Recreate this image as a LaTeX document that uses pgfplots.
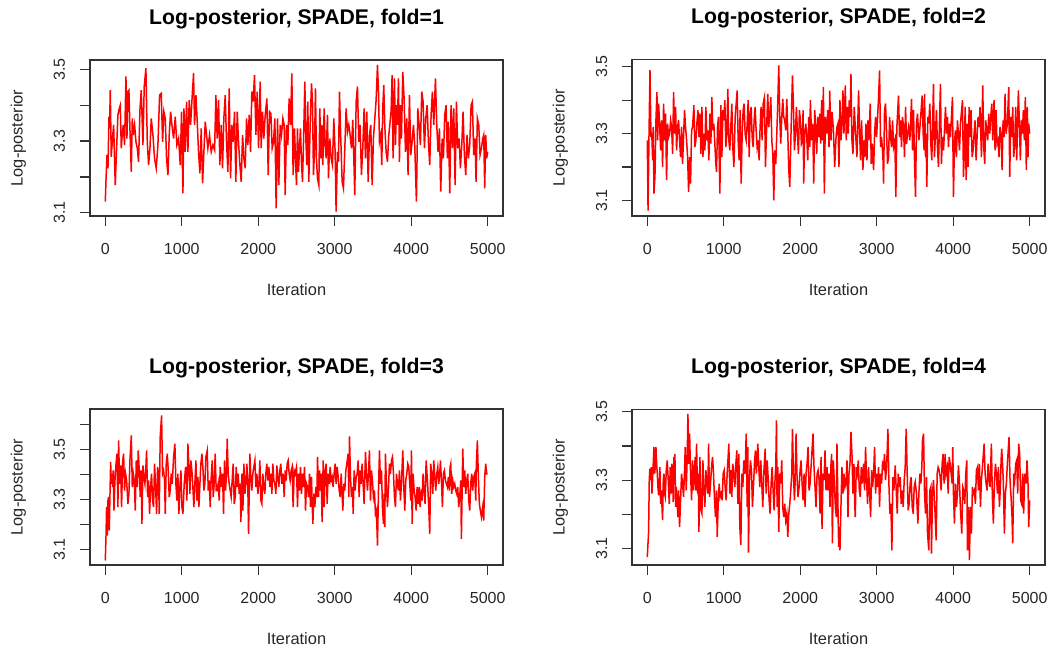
\documentclass[border=0pt]{standalone}
\usepackage{fontspec}
\setmainfont{Liberation Sans}
\usepackage{pgfplots}
\pgfplotsset{compat=1.18}

\pgfplotsset{
  trace/.style={
    scale only axis,
    width=206.5pt,
    anchor=south west,
    xmin=-200, xmax=5200,
    xtick={0,1000,2000,3000,4000,5000},
    xticklabels={0,1000,2000,3000,4000,5000},
    tick pos=left,
    tick align=outside,
    major tick length=5pt,
    axis line style={black!80, line width=0.65pt},
    every tick/.style={black!80, line width=0.65pt},
    /pgf/number format/assume math mode=true,
    ticklabel style={font=\fontsize{8}{9.6}\selectfont, text=black!85, inner sep=0pt},
    xticklabel style={anchor=base, yshift=-14.25pt},
    yticklabel style={xshift=-7.5pt, rotate=90, anchor=base},
    every axis title/.style={at={(rel axis cs:0.5,1)}, anchor=base, yshift=18pt,
      inner sep=0pt, font=\bfseries\fontsize{10.6}{12.5}\selectfont},
    every axis x label/.style={at={(rel axis cs:0.5,0)}, anchor=base, yshift=-39.5pt,
      inner sep=0pt, font=\fontsize{8.2}{10}\selectfont, text=black!85},
    every axis y label/.style={at={(rel axis cs:0,0.5)}, xshift=-33.7pt, rotate=90,
      anchor=base, inner sep=0pt, font=\fontsize{8.2}{10}\selectfont, text=black!85},
    xlabel={Iteration},
    ylabel={Log-posterior},
  },
  chain/.style={red, line width=0.75pt, mark=none},
}

\begin{document}
\begin{tikzpicture}
\path[use as bounding box] (0,0) rectangle (525.5pt,327.5pt);

% fold 1
\begin{axis}[trace, at={(45pt,219.5pt)}, height=78pt,
  ymin=3.091, ymax=3.526,
  ytick={3.1,3.2,3.3,3.4,3.5}, yticklabels={3.1,,3.3,,3.5},
  title={Log-posterior, SPADE, fold=1}]
\addplot[chain] table {
0 3.131
10 3.196
22 3.261
35 3.224
48 3.368
56 3.335
65 3.442
78 3.256
96 3.312
109 3.345
130 3.177
148 3.280
165 3.373
183 3.391
196 3.400
209 3.280
218 3.307
235 3.345
252 3.289
270 3.480
283 3.307
296 3.438
309 3.442
322 3.335
340 3.214
353 3.363
366 3.317
383 3.345
401 3.298
418 3.280
435 3.242
453 3.387
470 3.442
492 3.289
509 3.452
531 3.503
549 3.298
566 3.233
584 3.280
601 3.363
623 3.317
644 3.252
666 3.224
688 3.289
710 3.428
732 3.433
749 3.298
766 3.382
784 3.363
801 3.252
819 3.205
836 3.317
854 3.382
871 3.345
893 3.307
915 3.368
936 3.289
958 3.307
980 3.233
997 3.382
1015 3.154
1028 3.391
1045 3.270
1063 3.410
1080 3.270
1097 3.414
1115 3.345
1137 3.428
1154 3.489
1167 3.345
1185 3.428
1202 3.354
1219 3.270
1237 3.210
1254 3.335
1272 3.182
1289 3.270
1307 3.354
1324 3.317
1341 3.280
1363 3.317
1385 3.270
1407 3.289
1429 3.275
1446 3.428
1463 3.307
1481 3.414
1498 3.233
1516 3.345
1533 3.224
1550 3.363
1568 3.428
1585 3.298
1603 3.214
1620 3.447
1638 3.196
1655 3.345
1672 3.298
1690 3.382
1707 3.186
1725 3.382
1742 3.298
1760 3.233
1777 3.186
1795 3.317
1812 3.252
1829 3.224
1847 3.363
1864 3.289
1882 3.373
1899 3.270
1916 3.438
1934 3.410
1951 3.484
1969 3.317
1986 3.438
2004 3.280
2025 3.466
2038 3.280
2056 3.382
2073 3.307
2091 3.373
2113 3.419
2130 3.205
2147 3.382
2165 3.377
2182 3.280
2200 3.298
2217 3.363
2234 3.112
2252 3.363
2269 3.177
2287 3.345
2304 3.317
2322 3.363
2339 3.345
2352 3.149
2370 3.345
2387 3.289
2404 3.419
2422 3.345
2439 3.489
2456 3.205
2474 3.335
2491 3.224
2500 3.177
2513 3.335
2526 3.214
2539 3.280
2552 3.335
2565 3.242
2578 3.186
2592 3.298
2609 3.466
2622 3.307
2635 3.233
2648 3.410
2661 3.186
2679 3.345
2696 3.461
2709 3.410
2722 3.205
2735 3.270
2748 3.447
2761 3.252
2774 3.196
2792 3.177
2805 3.391
2818 3.252
2831 3.345
2844 3.233
2862 3.391
2875 3.289
2888 3.252
2905 3.373
2918 3.196
2936 3.307
2953 3.252
2970 3.233
2988 3.363
3005 3.270
3018 3.103
3036 3.270
3049 3.242
3062 3.438
3079 3.307
3097 3.186
3114 3.168
3132 3.280
3149 3.391
3167 3.326
3184 3.345
3201 3.317
3219 3.280
3236 3.359
3262 3.149
3280 3.410
3297 3.452
3315 3.298
3332 3.345
3349 3.205
3367 3.280
3384 3.391
3402 3.252
3419 3.382
3437 3.186
3454 3.317
3471 3.345
3489 3.177
3506 3.307
3524 3.363
3541 3.414
3559 3.512
3572 3.438
3585 3.298
3602 3.317
3615 3.233
3628 3.391
3641 3.456
3654 3.345
3672 3.270
3689 3.242
3707 3.317
3724 3.354
3737 3.382
3750 3.484
3763 3.252
3781 3.475
3794 3.289
3807 3.400
3820 3.345
3833 3.475
3846 3.242
3859 3.400
3872 3.307
3890 3.493
3907 3.419
3925 3.270
3942 3.363
3959 3.205
3977 3.428
3994 3.261
4012 3.298
4029 3.345
4046 3.289
4068 3.131
4086 3.391
4103 3.345
4120 3.289
4138 3.438
4155 3.410
4173 3.280
4190 3.363
4208 3.400
4225 3.298
4242 3.233
4260 3.373
4277 3.438
4295 3.345
4317 3.475
4334 3.345
4351 3.270
4369 3.335
4386 3.159
4404 3.307
4421 3.252
4438 3.373
4456 3.400
4473 3.252
4486 3.354
4504 3.154
4521 3.400
4539 3.280
4556 3.391
4574 3.177
4591 3.410
4608 3.280
4626 3.307
4643 3.224
4661 3.289
4678 3.382
4695 3.261
4713 3.205
4730 3.317
4748 3.252
4765 3.289
4783 3.400
4800 3.410
4817 3.261
4835 3.307
4848 3.186
4865 3.363
4883 3.345
4900 3.261
4918 3.280
4935 3.307
4948 3.317
4961 3.168
4974 3.317
4987 3.252
5000 3.270
};
\end{axis}

% fold 2
\begin{axis}[trace, at={(316pt,219.5pt)}, height=78.3pt,
  ymin=3.054, ymax=3.522,
  ytick={3.1,3.2,3.3,3.4,3.5}, yticklabels={3.1,,3.3,,3.5},
  title={Log-posterior, SPADE, fold=2}]
\addplot[chain] table {
0 3.280
10 3.070
22 3.290
35 3.490
48 3.290
52 3.300
61 3.285
70 3.220
78 3.320
87 3.121
100 3.171
113 3.340
126 3.424
135 3.280
148 3.390
161 3.330
174 3.250
187 3.340
200 3.200
213 3.390
226 3.280
239 3.360
252 3.161
265 3.330
279 3.290
292 3.300
305 3.340
318 3.320
331 3.240
344 3.424
357 3.300
370 3.380
383 3.250
396 3.320
409 3.340
422 3.280
435 3.230
448 3.320
461 3.210
474 3.290
487 3.370
500 3.320
514 3.280
527 3.230
540 3.126
553 3.230
566 3.151
579 3.310
592 3.320
609 3.385
622 3.260
635 3.280
648 3.330
662 3.370
675 3.290
688 3.360
701 3.240
714 3.380
727 3.230
740 3.300
753 3.250
766 3.380
779 3.280
792 3.310
805 3.220
818 3.360
831 3.270
844 3.409
857 3.310
870 3.330
883 3.270
896 3.210
905 3.186
918 3.320
931 3.350
949 3.121
962 3.385
975 3.230
988 3.370
1001 3.340
1014 3.400
1027 3.260
1040 3.300
1053 3.434
1066 3.280
1079 3.250
1092 3.320
1105 3.390
1118 3.260
1132 3.200
1149 3.350
1175 3.429
1188 3.280
1201 3.220
1214 3.370
1227 3.151
1240 3.295
1253 3.370
1266 3.390
1279 3.300
1293 3.280
1306 3.330
1319 3.400
1332 3.230
1345 3.360
1358 3.380
1371 3.290
1384 3.260
1397 3.340
1410 3.380
1423 3.310
1436 3.260
1449 3.280
1462 3.220
1475 3.320
1488 3.380
1501 3.280
1515 3.390
1532 3.409
1545 3.200
1558 3.300
1575 3.419
1588 3.320
1602 3.360
1615 3.409
1628 3.280
1641 3.240
1654 3.101
1667 3.250
1680 3.210
1693 3.300
1706 3.390
1719 3.504
1732 3.350
1745 3.270
1758 3.350
1771 3.404
1784 3.350
1797 3.340
1810 3.310
1824 3.404
1837 3.300
1850 3.191
1863 3.141
1876 3.270
1884 3.350
1898 3.474
1911 3.380
1924 3.250
1937 3.300
1950 3.380
1963 3.300
1976 3.240
1989 3.370
2002 3.340
2015 3.270
2028 3.280
2037 3.370
2045 3.151
2058 3.300
2072 3.330
2085 3.290
2098 3.220
2111 3.350
2124 3.260
2132 3.400
2150 3.280
2163 3.330
2176 3.151
2189 3.370
2202 3.320
2215 3.240
2228 3.350
2241 3.290
2254 3.360
2267 3.270
2280 3.400
2293 3.280
2302 3.439
2315 3.121
2328 3.350
2346 3.300
2359 3.370
2376 3.260
2385 3.429
2402 3.280
2415 3.365
2433 3.315
2450 3.200
2468 3.290
2480 3.320
2493 3.330
2506 3.200
2519 3.400
2532 3.280
2545 3.320
2558 3.429
2571 3.300
2589 3.444
2602 3.280
2615 3.380
2628 3.300
2641 3.400
2654 3.350
2663 3.479
2676 3.280
2689 3.240
2706 3.380
2724 3.300
2741 3.230
2763 3.429
2776 3.300
2789 3.220
2802 3.340
2819 3.191
2833 3.280
2846 3.230
2859 3.330
2872 3.220
2885 3.340
2898 3.280
2915 3.390
2928 3.210
2941 3.270
2959 3.191
2972 3.300
2985 3.350
2998 3.290
3011 3.350
3024 3.409
3037 3.489
3050 3.260
3063 3.290
3081 3.230
3089 3.151
3102 3.370
3115 3.390
3128 3.310
3141 3.210
3155 3.230
3168 3.350
3181 3.290
3194 3.260
3207 3.340
3220 3.260
3237 3.280
3250 3.111
3263 3.320
3285 3.414
3298 3.290
3311 3.340
3324 3.260
3337 3.350
3350 3.320
3363 3.230
3377 3.380
3390 3.270
3403 3.300
3416 3.320
3433 3.280
3455 3.404
3468 3.250
3481 3.370
3494 3.220
3507 3.111
3520 3.330
3533 3.360
3551 3.280
3568 3.330
3594 3.414
3607 3.300
3620 3.250
3625 3.419
3638 3.230
3646 3.300
3655 3.141
3668 3.350
3681 3.330
3694 3.390
3707 3.270
3720 3.220
3742 3.449
3755 3.230
3768 3.300
3781 3.370
3794 3.260
3807 3.200
3820 3.330
3833 3.449
3846 3.210
3860 3.290
3873 3.250
3886 3.310
3899 3.380
3912 3.300
3925 3.350
3938 3.260
3951 3.330
3964 3.290
3977 3.350
3990 3.409
4003 3.111
4016 3.270
4029 3.310
4042 3.230
4055 3.340
4068 3.300
4082 3.250
4095 3.330
4121 3.400
4134 3.171
4147 3.260
4156 3.380
4169 3.161
4182 3.330
4195 3.200
4208 3.380
4221 3.290
4234 3.370
4247 3.230
4260 3.250
4273 3.300
4286 3.340
4299 3.220
4312 3.290
4325 3.350
4338 3.320
4351 3.380
4369 3.230
4386 3.444
4399 3.260
4412 3.210
4425 3.340
4438 3.310
4451 3.280
4464 3.360
4478 3.300
4491 3.350
4504 3.390
4517 3.280
4534 3.400
4547 3.250
4560 3.370
4573 3.270
4586 3.280
4599 3.230
4612 3.320
4626 3.300
4639 3.191
4652 3.340
4665 3.290
4678 3.419
4691 3.300
4708 3.330
4726 3.439
4739 3.171
4752 3.350
4765 3.290
4778 3.380
4791 3.230
4804 3.270
4817 3.380
4830 3.220
4852 3.429
4865 3.330
4878 3.220
4891 3.340
4904 3.300
4917 3.370
4930 3.280
4943 3.409
4956 3.191
4969 3.380
4978 3.230
4987 3.330
5000 3.300
};
\end{axis}

% fold 3
\begin{axis}[trace, at={(45pt,45pt)}, height=78pt,
  ymin=3.039, ymax=3.663,
  ytick={3.1,3.2,3.3,3.4,3.5,3.6}, yticklabels={3.1,,3.3,,3.5,},
  title={Log-posterior, SPADE, fold=3}]
\addplot[chain] table {
0 3.057
9 3.151
17 3.271
26 3.157
35 3.297
43 3.311
52 3.177
61 3.317
70 3.451
78 3.364
87 3.404
96 3.351
104 3.417
113 3.257
126 3.377
139 3.437
152 3.484
165 3.271
174 3.537
187 3.364
200 3.437
213 3.271
226 3.451
239 3.484
252 3.337
265 3.404
279 3.377
296 3.284
309 3.324
322 3.457
340 3.557
353 3.351
366 3.404
379 3.377
392 3.257
405 3.457
418 3.351
431 3.497
444 3.417
457 3.311
470 3.417
479 3.204
492 3.437
505 3.391
518 3.364
531 3.431
540 3.497
553 3.311
566 3.377
579 3.244
592 3.351
605 3.404
618 3.297
631 3.271
644 3.444
658 3.351
671 3.244
684 3.431
697 3.404
705 3.244
718 3.551
736 3.637
749 3.404
762 3.417
775 3.377
784 3.244
797 3.444
810 3.484
823 3.417
836 3.311
849 3.337
862 3.404
875 3.364
893 3.471
910 3.524
923 3.364
936 3.297
949 3.404
962 3.244
976 3.351
989 3.417
1002 3.271
1015 3.244
1032 3.364
1050 3.431
1067 3.297
1080 3.524
1093 3.431
1106 3.324
1119 3.457
1132 3.417
1145 3.351
1158 3.271
1171 3.364
1185 3.457
1198 3.297
1211 3.391
1224 3.271
1237 3.364
1250 3.444
1263 3.484
1276 3.431
1289 3.337
1302 3.364
1315 3.471
1333 3.497
1346 3.337
1359 3.377
1372 3.271
1385 3.391
1398 3.457
1411 3.311
1424 3.364
1437 3.484
1450 3.337
1463 3.337
1476 3.364
1490 3.297
1503 3.431
1516 3.351
1533 3.404
1546 3.244
1559 3.457
1572 3.337
1585 3.404
1594 3.544
1607 3.404
1620 3.364
1633 3.337
1646 3.311
1659 3.377
1672 3.444
1686 3.284
1699 3.311
1712 3.431
1725 3.351
1738 3.404
1751 3.324
1764 3.364
1773 3.211
1786 3.404
1799 3.257
1812 3.444
1825 3.324
1838 3.364
1851 3.444
1864 3.351
1873 3.164
1890 3.484
1903 3.391
1916 3.337
1929 3.404
1942 3.431
1956 3.457
1969 3.351
1982 3.404
1995 3.324
2008 3.364
2021 3.457
2034 3.297
2047 3.284
2060 3.404
2073 3.351
2086 3.324
2099 3.404
2112 3.444
2126 3.377
2139 3.431
2152 3.351
2165 3.404
2178 3.324
2191 3.444
2204 3.377
2217 3.364
2230 3.324
2243 3.437
2256 3.391
2269 3.351
2282 3.417
2295 3.444
2308 3.364
2326 3.404
2339 3.311
2352 3.417
2365 3.377
2378 3.444
2391 3.457
2404 3.404
2417 3.377
2430 3.417
2443 3.431
2456 3.271
2470 3.417
2483 3.404
2500 3.431
2513 3.271
2526 3.404
2539 3.337
2552 3.431
2565 3.324
2578 3.404
2592 3.351
2605 3.431
2618 3.257
2631 3.364
2644 3.351
2657 3.311
2670 3.404
2683 3.271
2696 3.391
2705 3.284
2714 3.204
2727 3.324
2740 3.271
2753 3.351
2766 3.311
2775 3.471
2788 3.311
2801 3.417
2814 3.337
2822 3.404
2835 3.211
2849 3.457
2862 3.271
2875 3.417
2888 3.444
2901 3.284
2914 3.404
2927 3.364
2940 3.431
2953 3.377
2966 3.391
2979 3.351
2992 3.404
3005 3.444
3018 3.364
3032 3.431
3045 3.391
3058 3.337
3071 3.311
3084 3.404
3106 3.257
3119 3.364
3132 3.337
3145 3.417
3158 3.444
3175 3.484
3184 3.311
3193 3.553
3206 3.391
3219 3.311
3232 3.351
3241 3.244
3254 3.417
3267 3.337
3280 3.391
3293 3.404
3306 3.457
3319 3.311
3332 3.417
3345 3.364
3358 3.444
3371 3.364
3384 3.284
3402 3.491
3415 3.404
3428 3.337
3441 3.404
3454 3.497
3467 3.297
3480 3.417
3493 3.377
3506 3.311
3519 3.337
3532 3.244
3545 3.257
3559 3.117
3572 3.337
3585 3.497
3598 3.364
3611 3.417
3624 3.271
3637 3.204
3646 3.324
3654 3.191
3663 3.484
3676 3.364
3689 3.271
3702 3.337
3715 3.444
3728 3.404
3742 3.457
3755 3.471
3768 3.404
3781 3.311
3794 3.271
3807 3.404
3820 3.364
3833 3.337
3846 3.417
3859 3.297
3872 3.364
3890 3.497
3903 3.351
3916 3.257
3929 3.377
3942 3.404
3955 3.444
3968 3.431
3981 3.364
3994 3.297
4003 3.497
4012 3.204
4025 3.404
4038 3.337
4051 3.311
4064 3.257
4077 3.351
4090 3.284
4103 3.351
4116 3.271
4129 3.324
4142 3.297
4155 3.404
4168 3.337
4181 3.284
4195 3.457
4212 3.377
4229 3.271
4242 3.164
4255 3.444
4268 3.404
4282 3.324
4295 3.457
4308 3.391
4321 3.337
4334 3.404
4347 3.431
4360 3.364
4373 3.404
4382 3.457
4395 3.377
4408 3.271
4421 3.404
4434 3.417
4447 3.377
4460 3.364
4473 3.351
4486 3.391
4499 3.337
4508 3.431
4517 3.444
4530 3.324
4543 3.377
4556 3.351
4569 3.364
4582 3.337
4595 3.324
4608 3.351
4621 3.271
4634 3.311
4648 3.377
4656 3.144
4674 3.504
4687 3.351
4700 3.417
4713 3.324
4726 3.377
4739 3.404
4752 3.297
4765 3.257
4778 3.364
4791 3.404
4804 3.337
4817 3.391
4830 3.404
4844 3.297
4852 3.444
4865 3.537
4878 3.391
4891 3.284
4904 3.257
4918 3.231
4935 3.271
4948 3.217
4961 3.391
4974 3.444
4987 3.404
5000 3.404
};
\end{axis}

% fold 4
\begin{axis}[trace, at={(316pt,45pt)}, height=77.8pt,
  ymin=3.052, ymax=3.507,
  ytick={3.1,3.2,3.3,3.4,3.5}, yticklabels={3.1,,3.3,,3.5},
  title={Log-posterior, SPADE, fold=4}]
\addplot[chain] table {
0 3.075
17 3.149
26 3.304
35 3.334
44 3.300
52 3.338
61 3.261
74 3.329
87 3.397
96 3.319
104 3.338
113 3.397
122 3.348
131 3.319
139 3.280
148 3.256
157 3.290
165 3.338
174 3.231
183 3.270
192 3.222
200 3.183
209 3.300
218 3.319
226 3.261
235 3.251
248 3.329
261 3.358
274 3.300
287 3.231
300 3.338
313 3.261
322 3.348
331 3.319
339 3.236
348 3.368
357 3.300
361 3.377
370 3.222
379 3.280
387 3.251
400 3.192
409 3.270
422 3.163
435 3.241
448 3.319
461 3.290
474 3.251
487 3.329
496 3.397
509 3.270
522 3.368
531 3.494
544 3.348
553 3.436
566 3.319
579 3.241
592 3.358
605 3.270
618 3.338
627 3.368
635 3.270
644 3.407
657 3.261
666 3.319
675 3.149
688 3.368
701 3.212
714 3.202
727 3.358
740 3.270
753 3.222
766 3.329
779 3.290
792 3.261
801 3.407
814 3.251
827 3.290
840 3.338
853 3.368
866 3.319
879 3.241
892 3.192
905 3.270
914 3.134
927 3.231
940 3.290
953 3.251
966 3.261
979 3.241
992 3.319
1005 3.329
1018 3.280
1031 3.241
1044 3.319
1057 3.368
1066 3.407
1079 3.261
1092 3.329
1105 3.251
1118 3.348
1132 3.319
1145 3.280
1158 3.348
1171 3.387
1184 3.231
1197 3.377
1210 3.163
1223 3.110
1236 3.319
1249 3.280
1262 3.358
1279 3.319
1293 3.436
1306 3.222
1314 3.397
1323 3.088
1336 3.300
1349 3.358
1362 3.329
1375 3.222
1388 3.280
1401 3.348
1414 3.387
1427 3.319
1445 3.407
1458 3.338
1471 3.280
1484 3.358
1497 3.290
1510 3.222
1523 3.319
1541 3.392
1554 3.261
1567 3.358
1580 3.309
1593 3.241
1606 3.202
1619 3.290
1632 3.338
1645 3.270
1658 3.212
1671 3.309
1680 3.338
1689 3.475
1697 3.222
1706 3.338
1719 3.149
1732 3.319
1745 3.290
1758 3.358
1771 3.222
1784 3.192
1797 3.231
1810 3.183
1824 3.202
1837 3.134
1850 3.202
1863 3.231
1876 3.270
1889 3.319
1898 3.450
1911 3.319
1924 3.241
1932 3.290
1945 3.436
1958 3.309
1971 3.251
1985 3.280
1998 3.329
2011 3.358
2024 3.290
2037 3.241
2050 3.319
2063 3.222
2076 3.319
2089 3.348
2102 3.397
2115 3.270
2128 3.290
2141 3.338
2167 3.436
2180 3.338
2193 3.280
2206 3.222
2220 3.319
2233 3.329
2246 3.300
2259 3.202
2272 3.368
2285 3.158
2298 3.319
2311 3.300
2324 3.387
2337 3.270
2350 3.338
2363 3.270
2376 3.319
2389 3.222
2402 3.348
2411 3.377
2420 3.115
2433 3.358
2446 3.290
2459 3.222
2472 3.192
2480 3.407
2493 3.222
2502 3.105
2510 3.163
2519 3.095
2532 3.222
2545 3.338
2558 3.261
2571 3.319
2584 3.280
2598 3.290
2611 3.358
2624 3.192
2637 3.319
2650 3.348
2663 3.441
2676 3.377
2689 3.261
2702 3.348
2711 3.241
2719 3.192
2732 3.338
2745 3.319
2759 3.358
2772 3.270
2785 3.251
2798 3.338
2811 3.290
2828 3.348
2841 3.270
2854 3.397
2867 3.300
2880 3.231
2893 3.338
2906 3.270
2920 3.192
2933 3.329
2946 3.280
2959 3.319
2972 3.397
2985 3.261
2998 3.319
3011 3.280
3024 3.338
3037 3.222
3050 3.319
3063 3.290
3076 3.348
3089 3.338
3102 3.377
3115 3.300
3128 3.338
3137 3.387
3146 3.450
3159 3.290
3172 3.202
3185 3.231
3198 3.095
3211 3.309
3224 3.270
3242 3.343
3255 3.270
3268 3.202
3281 3.319
3294 3.280
3307 3.309
3320 3.231
3333 3.270
3346 3.222
3359 3.300
3372 3.338
3385 3.450
3398 3.319
3411 3.212
3424 3.231
3437 3.290
3450 3.309
3464 3.222
3477 3.202
3490 3.280
3503 3.295
3520 3.261
3538 3.173
3551 3.261
3564 3.319
3577 3.290
3590 3.338
3598 3.416
3612 3.436
3625 3.261
3638 3.202
3651 3.309
3664 3.144
3681 3.095
3694 3.270
3707 3.280
3716 3.085
3729 3.261
3742 3.300
3759 3.222
3777 3.124
3790 3.319
3803 3.338
3816 3.329
3829 3.309
3842 3.270
3855 3.348
3868 3.377
3881 3.290
3894 3.377
3907 3.319
3921 3.338
3934 3.261
3947 3.368
3960 3.348
3973 3.319
3986 3.290
3994 3.397
4003 3.261
4016 3.173
4029 3.290
4042 3.222
4055 3.261
4068 3.343
4082 3.290
4095 3.212
4112 3.144
4125 3.280
4138 3.270
4151 3.231
4164 3.319
4177 3.358
4186 3.095
4199 3.222
4212 3.066
4225 3.222
4238 3.144
4251 3.280
4264 3.261
4277 3.270
4290 3.231
4303 3.329
4317 3.338
4330 3.270
4343 3.348
4356 3.222
4369 3.300
4382 3.338
4404 3.407
4417 3.319
4430 3.290
4443 3.270
4456 3.348
4469 3.300
4482 3.280
4499 3.407
4512 3.251
4525 3.173
4538 3.290
4552 3.348
4565 3.319
4578 3.261
4591 3.338
4604 3.222
4617 3.280
4626 3.358
4634 3.392
4647 3.338
4656 3.290
4669 3.144
4682 3.261
4695 3.290
4708 3.348
4730 3.426
4743 3.300
4756 3.251
4769 3.192
4778 3.115
4791 3.319
4804 3.300
4817 3.348
4830 3.358
4843 3.261
4856 3.407
4869 3.377
4882 3.241
4895 3.231
4908 3.319
4921 3.202
4935 3.319
4952 3.290
4965 3.358
4978 3.290
4987 3.163
5000 3.241
};
\end{axis}
\end{tikzpicture}
\end{document}
